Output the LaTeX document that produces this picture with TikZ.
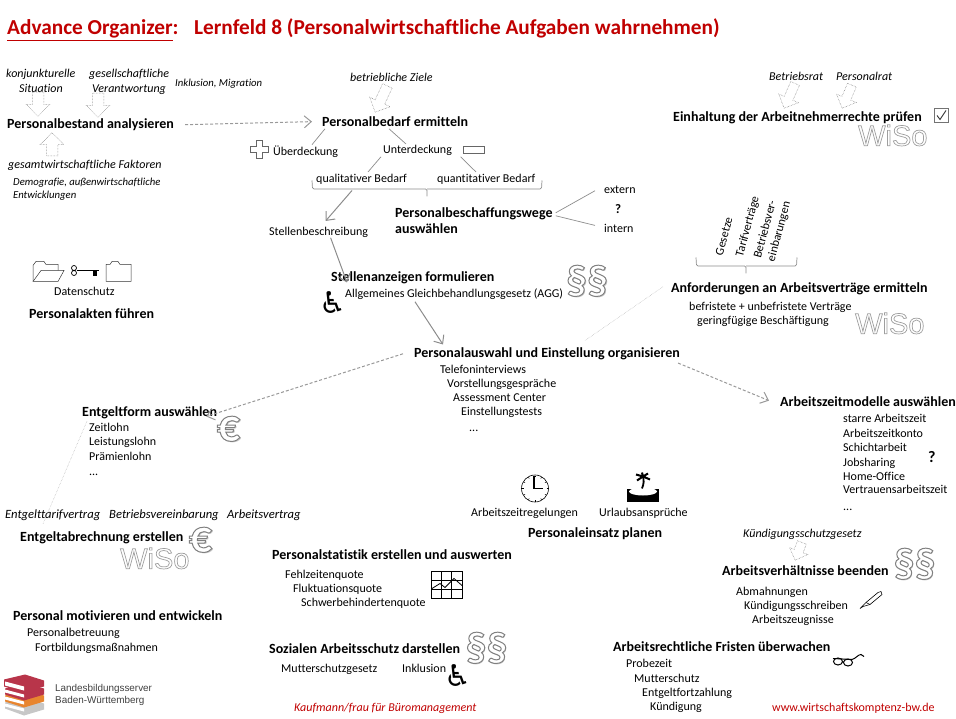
\documentclass[tikz,border=0pt]{standalone}
\usepackage{fontspec}
\setmainfont[Ligatures=NoCommon]{Carlito}
\newfontfamily\wisofont{Liberation Sans}
\newfontfamily\symfont{DejaVu Sans}
\usetikzlibrary{arrows.meta,shapes.arrows}
\newcommand{\outltext}[2]{\special{pdf:code q 2 Tr #1 w 0.62 G 1 g}#2\special{pdf:code Q}}
\newcommand{\shadetext}[2]{\rlap{\kern1.2pt\raisebox{-1.4pt}{\textcolor{black!22}{#2}}}\special{pdf:code q 2 Tr #1 w 0.5 G 1 g}#2\special{pdf:code Q}}
\definecolor{orgred}{HTML}{C00000}
\definecolor{conngray}{HTML}{8C8C8C}
\definecolor{bookred}{HTML}{B8354A}
\definecolor{bookorange}{HTML}{E8852F}

\begin{document}
\begin{tikzpicture}[x=1pt,y=-1pt,
    ttl/.style={anchor=base west,inner sep=0pt,orgred,font=\fontsize{21.3}{24}\selectfont\bfseries},
    head/.style={anchor=base west,inner sep=0pt,font=\fontsize{14}{16}\selectfont\bfseries},
    txt/.style={anchor=base west,inner sep=0pt,font=\fontsize{12}{14}\selectfont},
    ital/.style={anchor=base west,inner sep=0pt,font=\fontsize{12}{14}\selectfont\itshape},
    wiso/.style={anchor=north west,inner sep=0pt,font=\fontsize{29}{30}\selectfont\wisofont},
    para/.style={inner sep=0pt,font=\fontsize{42}{44}\selectfont\bfseries},
    euro/.style={inner sep=0pt,font=\fontsize{46}{50}\selectfont\bfseries},
    rolli/.style={inner sep=0pt,font=\fontsize{30}{32}\selectfont\symfont},
    hollow/.style={single arrow,anchor=tip,draw=black!55,densely dotted,inner sep=0pt,
        single arrow head extend=6pt,single arrow head indent=0pt,line width=0.5pt},
    conn/.style={conngray,line width=0.7pt},
    solidarr/.style={conngray,line width=1pt,-{Straight Barb[length=7pt,width=12pt]}},
    dasharr/.style={black!40,densely dashed,line width=1pt,-{Straight Barb[length=7pt,width=12pt]}},
    faint/.style={black!30,densely dotted,line width=0.5pt},
    bracket/.style={conngray,line width=0.7pt,rounded corners=1.5pt}]
    \useasboundingbox (0,-0.5) rectangle (956,718.5);

    % Title
    \node[ttl] (orgtitle) at (7,34.5) {\underline{Advance Organizer}:};
    \node[ttl] (lftitle) at (194,34.5) {Lernfeld 8 (Personalwirtschaftliche Aufgaben wahrnehmen)};

    % Personalbestand
    \node[ital] (konj) at (6,77) {konjunkturelle};
    \node[ital] (situ) at (19,92) {Situation};
    \node[ital] (gesell) at (89,77) {gesellschaftliche};
    \node[ital] (verant) at (92,92) {Verantwortung};
    \node[ital,font=\fontsize{10.7}{13}\selectfont\itshape] (inkl) at (175,86) {Inklusion, Migration};
    \node[head] (bestand) at (7,128) {Personalbestand analysieren};
    \node[hollow,rotate=-90,minimum height=24pt] (pfeila) at (38,116) {\rule{0pt}{11pt}};
    \node[hollow,rotate=-90,minimum height=24pt] (pfeilb) at (98,117) {\rule{0pt}{11pt}};
    \node[hollow,rotate=90,minimum height=23pt] (pfeilc) at (52,132) {\rule{0pt}{11pt}};
    \node[ital] (gesamt) at (8,168) {gesamtwirtschaftliche Faktoren};
    \node[ital,font=\fontsize{10.7}{13}\selectfont\itshape] (demo) at (13,185) {Demografie, außenwirtschaftliche};
    \node[ital,font=\fontsize{10.7}{13}\selectfont\itshape] (entw) at (13,198) {Entwicklungen};

    % Personalbedarf
    \node[ital] (ziele) at (350,81) {betriebliche Ziele};
    \node[hollow,rotate=-115,minimum height=29pt] (pfeild) at (375,112) {\rule{0pt}{10pt}};
    \node[head] (bedarf) at (322,126) {Personalbedarf ermitteln};
    \node[txt] (ueber) at (273,155) {Überdeckung};
    \node[txt] (unter) at (383,153) {Unterdeckung};
    \node[txt] (qual) at (316,182) {qualitativer Bedarf};
    \node[txt] (quant) at (437,182) {quantitativer Bedarf};
    \draw[dasharr] ([xshift=11pt]bestand.east) -- ([xshift=-10pt]bedarf.west);
    \draw[conn] ([xshift=3pt,yshift=-2pt]bedarf.south west) -- ([xshift=39pt,yshift=1pt]ueber.north west);
    \draw[conn] ([xshift=67pt,yshift=-2pt]bedarf.south west) -- ([xshift=23pt,yshift=1pt]unter.north west);
    \draw[conn] ([xshift=-2pt,yshift=-1pt]unter.south west) -- ([xshift=52pt,yshift=2pt]qual.north west);
    \draw[conn] ([xshift=43pt,yshift=-1pt]unter.south) -- ([xshift=39pt,yshift=2pt]quant.north west);
    % Plus and minus
    \draw[black!60,line width=0.6pt] (256,140) -- (262,140) -- (262,146) -- (268,146) -- (268,152) -- (262,152)
        -- (262,158) -- (256,158) -- (256,152) -- (250,152) -- (250,146) -- (256,146) -- cycle;
    \draw[black!60,line width=0.6pt] (463,146) rectangle (484,153);
    % Bracket under Bedarf
    \draw[bracket] (312,180) -- (312.5,188.5) -- (427,188.5) -- (427,196);
    \draw[bracket] (427,188.5) -- (541.5,188.5) -- (542,180);
    \coordinate (bedarfbr) at (352,190);

    % Personalbeschaffung
    \node[head] (wege) at (395,217) {Personalbeschaffungswege};
    \node[head] (auswaehlen) at (395,233) {auswählen};
    \node[txt] (extern) at (604,193) {extern};
    \node[txt,font=\fontsize{13}{16}\selectfont\bfseries] (frageA) at (615,213) {?};
    \node[txt] (intern) at (604,232) {intern};
    \draw[conn] ([xshift=3pt,yshift=1pt]wege.east) -- ([xshift=-9pt,yshift=-1pt]extern.west);
    \draw[conn] ([xshift=3pt,yshift=-2pt]wege.east) -- ([xshift=-9pt,yshift=3pt]intern.west);

    % Stellen
    \node[txt] (stellenb) at (269,235) {Stellenbeschreibung};
    \node[head] (anzeigen) at (331,281) {Stellenanzeigen formulieren};
    \node[txt] (agg) at (345,297) {Allgemeines Gleichbehandlungsgesetz (AGG)};
    \node[rolli] (rolliA) at (332.5,302) {♿};
    \node[para] (paraA) at (587,281) {\shadetext{1}{§§}};
    \draw[solidarr] (bedarfbr) -- ([xshift=7pt,yshift=6pt]stellenb.north);
    \draw[solidarr] ([xshift=12pt]stellenb.south) -- ([xshift=16pt,yshift=-11pt]anzeigen.north west);

    % Personalakten
    \draw[black!80,line width=0.5pt] (33,281) -- (33,265) -- (36,261) -- (44,261) -- (46,264) -- (58,264) -- (58,270);
    \draw[black!80,line width=0.5pt] (33,281) -- (41,270) -- (64,270) -- (58,281) -- cycle;
    \draw[black,line width=0.7pt] (74,267.5) circle (2.5) (74,272.5) circle (2.5);
    \draw[black,line width=1.4pt] (77,270) -- (99,270);
    \fill[black] (93,270) -- (97,270) -- (97,276) -- (93,276) -- cycle;
    \draw[black!80,line width=0.5pt] (106,281) -- (106,264) -- (110,264) -- (112,261) -- (118,261) -- (120,264)
        -- (131,264) -- (131,281) -- cycle;
    \node[txt] (daten) at (54,295) {Datenschutz};
    \node[head] (akten) at (29,318) {Personalakten führen};

    % Einhaltung
    \node[ital] (brat) at (769,80) {Betriebsrat};
    \node[ital] (prat) at (836,80) {Personalrat};
    \node[hollow,rotate=-114,minimum height=27pt] (pfeile) at (784,108) {\rule{0pt}{9pt}};
    \node[hollow,rotate=-113,minimum height=25pt] (pfeilf) at (842,108) {\rule{0pt}{9pt}};
    \node[head] (einhalt) at (673,121) {Einhaltung der Arbeitnehmerrechte prüfen};
    \draw[black!55,line width=1pt] (934,108) rectangle (948,122);
    \draw[black!80,line width=0.9pt] (937,115) -- (940,119) -- (946,110);
    \node[wiso] (wisoA) at (858,124) {\outltext{0.7}{WiSo}};

    % Anforderungen
    \node[txt,anchor=center,rotate=75] (gesetze) at (724,236) {Gesetze};
    \node[txt,anchor=center,rotate=75] (tarif) at (748,226) {Tarifverträge};
    \node[txt,anchor=center,rotate=75,align=left] (betrieb) at (772.5,229.5) {Betriebsver-\\einbarungen};
    \draw[bracket] (696,257) -- (696.5,265.5) -- (746,265.5) -- (746,273);
    \draw[bracket] (746,265.5) -- (796.5,265.5) -- (797,257);
    \node[head] (anford) at (671,292) {Anforderungen an Arbeitsverträge ermitteln};
    \node[txt] (befrist) at (689,310) {befristete + unbefristete Verträge};
    \node[txt] (gering) at (697,324) {geringfügige Beschäftigung};
    \node[wiso] (wisoB) at (855,312) {\outltext{0.7}{WiSo}};

    % Personalauswahl
    \node[head] (auswahl) at (414,357) {Personalauswahl und Einstellung organisieren};
    \node[txt] (telefon) at (440,373) {Telefoninterviews};
    \node[txt] (vorst) at (447,387) {Vorstellungsgespräche};
    \node[txt] (assess) at (453,401) {Assessment Center};
    \node[txt] (einst) at (461,415) {Einstellungstests};
    \node[txt] (punkteA) at (469,431) {...};
    \draw[solidarr] ([xshift=70pt,yshift=-2pt]agg.south west) -- ([xshift=29pt,yshift=3pt]auswahl.north west);
    \draw[faint] ([xshift=-8pt,yshift=2pt]anford.west) -- ([xshift=38pt,yshift=7pt]auswahl.north);

    % Entgeltform
    \node[head] (form) at (82,416) {Entgeltform auswählen};
    \node[txt] (zeitl) at (89,431) {Zeitlohn};
    \node[txt] (leist) at (89,445) {Leistungslohn};
    \node[txt] (praem) at (89,460) {Prämienlohn};
    \node[txt] (punkteB) at (89,475) {...};
    \node[euro] (euroA) at (228.5,429) {\shadetext{1}{€}};
    \draw[dasharr] ([xshift=-11pt]auswahl.west) -- ([xshift=-11pt,yshift=-10pt]form.north east);

    % Arbeitszeitmodelle
    \node[head] (modelle) at (780,406) {Arbeitszeitmodelle auswählen};
    \node[txt] (starre) at (843,422) {starre Arbeitszeit};
    \node[txt] (konto) at (843,437) {Arbeitszeitkonto};
    \node[txt] (schicht) at (843,451) {Schichtarbeit};
    \node[txt] (job) at (843,466) {Jobsharing};
    \node[txt] (home) at (843,480) {Home-Office};
    \node[txt] (vertr) at (843,493) {Vertrauensarbeitszeit};
    \node[txt] (punkteC) at (843,510) {...};
    \node[txt,font=\fontsize{16}{18}\selectfont\bfseries] (frageB) at (928,462) {?};
    \draw[dasharr] ([xshift=-2pt,yshift=-3pt]auswahl.south east) -- ([xshift=-11pt,yshift=1pt]modelle.west);

    % Personaleinsatz
    \draw[black,line width=0.6pt] (535,488) circle (13.5);
    \foreach \tick in {0,30,...,330}
        \draw[black,line width=0.5pt] (535,488) ++(\tick:11.5) -- ++(\tick:1.5);
    \draw[black,line width=1.2pt] (534,475) -- (534,488) -- (543,488);
    \fill[black] (627,488) rectangle (659,501);
    \fill[white] (643,491) ellipse (14 and 4);
    \draw[black,line width=1.8pt] (642,488) .. controls (644,483) and (644,480) .. (643,476);
    \draw[black,line width=2pt] (643,476) -- (637,480) (643,476) -- (636,474) (643,476) -- (642,472)
        (643,476) -- (648,473) (643,476) -- (650,479);
    \node[txt] (regel) at (471,516) {Arbeitszeitregelungen};
    \node[txt] (urlaub) at (599,516) {Urlaubsansprüche};
    \node[head] (einsatz) at (528,537) {Personaleinsatz planen};

    % Entgeltabrechnung
    \node[ital,font=\fontsize{12.6}{14}\selectfont\itshape] (tarifv) at (5,518) {Entgelttarifvertrag};
    \node[ital,font=\fontsize{12.6}{14}\selectfont\itshape] (betrv) at (109,518) {Betriebsvereinbarung};
    \node[ital,font=\fontsize{12.6}{14}\selectfont\itshape] (arbv) at (227,518) {Arbeitsvertrag};
    \node[head] (abrech) at (20,541) {Entgeltabrechnung erstellen};
    \node[wiso] (wisoC) at (120,547) {\outltext{0.7}{WiSo}};
    \node[euro] (euroB) at (200.5,540) {\shadetext{1}{€}};
    \draw[faint] ([xshift=5pt,yshift=-2pt]form.south west) -- ([xshift=38pt,yshift=-3pt]tarifv.south west);

    % Personalstatistik
    \node[head] (statistik) at (272,559) {Personalstatistik erstellen und auswerten};
    \node[txt] (fehl) at (285,578) {Fehlzeitenquote};
    \node[txt] (flukt) at (293,592) {Fluktuationsquote};
    \node[txt] (schwer) at (301,606) {Schwerbehindertenquote};
    \draw[black,line width=0.5pt] (441.3,571) -- (441.3,598) (451.7,571) -- (451.7,598)
        (431,580) -- (462,580) (431,589) -- (462,589);
    \draw[black,line width=0.8pt] (431,571) rectangle (462,598);
    \draw[black,line width=0.8pt] (432,588) -- (440,583) -- (445,587) -- (454,578) -- (462,585);

    % Motivation
    \node[head] (motiv) at (13,620) {Personal motivieren und entwickeln};
    \node[txt] (betreu) at (27,636) {Personalbetreuung};
    \node[txt] (fortb) at (35,651) {Fortbildungsmaßnahmen};

    % Sozialer Arbeitsschutz
    \node[head] (sozial) at (269,653) {Sozialen Arbeitsschutz darstellen};
    \node[txt] (muttersch) at (281,672) {Mutterschutzgesetz};
    \node[txt] (inklu) at (402,672) {Inklusion};
    \node[rolli] (rolliB) at (458,675.5) {♿};
    \node[para] (paraB) at (486.5,648) {\shadetext{1}{§§}};

    % Arbeitsverhaeltnisse
    \node[ital] (kschutz) at (743,537) {Kündigungsschutzgesetz};
    \node[hollow,rotate=-111,minimum height=19pt,single arrow head extend=5pt] (pfeilg) at (795,560) {\rule{0pt}{9pt}};
    \node[head] (beenden) at (722,575) {Arbeitsverhältnisse beenden};
    \node[para] (paraC) at (914.5,564) {\shadetext{1}{§§}};
    \node[txt] (abmahn) at (736,595) {Abmahnungen};
    \node[txt] (kuend) at (744,609) {Kündigungsschreiben};
    \node[txt] (zeugnis) at (752,623) {Arbeitszeugnisse};
    \draw[black,line width=0.6pt] (860,608) -- (866,602) -- (878,592) -- (881,591) -- (882,594) -- (870,604) -- (863,606) -- cycle;
    \draw[black,line width=0.6pt] (866,602) -- (870,604);

    % Fristen
    \node[head] (fristen) at (613,651) {Arbeitsrechtliche Fristen überwachen};
    \draw[black,line width=1pt] (838,661) ellipse (4.5 and 3.5) (848,662) ellipse (4.5 and 3.5);
    \draw[black,line width=1pt] (833,658) -- (852,659) .. controls (856,658) and (858,654) .. (861,654) -- (864,656);
    \node[txt] (probe) at (626,667) {Probezeit};
    \node[txt] (mutter) at (634,682) {Mutterschutz};
    \node[txt] (fortz) at (642,696) {Entgeltfortzahlung};
    \node[txt] (kuendg) at (650,710) {Kündigung};

    % Logo
    \fill[black!22] (5,702) -- (25,697) -- (44,703) -- (44,709) -- (24,715) -- (5,708) -- cycle;
    \fill[white] (5,703) -- (24,708) -- (24,711) -- (5,706) -- cycle;
    \fill[bookorange] (5,695) -- (25,690) -- (44,695) -- (44,701) -- (24,707) -- (5,701) -- cycle;
    \fill[white] (5,696) -- (24,701) -- (24,704) -- (5,699) -- cycle;
    \fill[bookred] (5,688) -- (25,683) -- (44,688) -- (44,694) -- (24,700) -- (5,694) -- cycle;
    \fill[white] (5,689) -- (24,694) -- (24,697) -- (5,692) -- cycle;
    \fill[bookred] (4,679) -- (25,674) -- (44,680) -- (44,686) -- (24,692) -- (4,686) -- cycle;
    \fill[white] (5,681) -- (24,686) -- (24,690) -- (5,685) -- cycle;
    \node[txt,black!75,font=\fontsize{9.9}{13}\selectfont\wisofont] (lbs) at (55,691) {Landesbildungsserver};
    \node[txt,black!75,font=\fontsize{9.9}{13}\selectfont\wisofont] (bw) at (55,703) {Baden-Württemberg};

    % Footer
    \node[ital,orgred] (beruf) at (294,711) {Kaufmann/frau für Büromanagement};
    \node[txt,orgred] (web) at (772,711) {www.wirtschaftskomptenz-bw.de};
\end{tikzpicture}
\end{document}
